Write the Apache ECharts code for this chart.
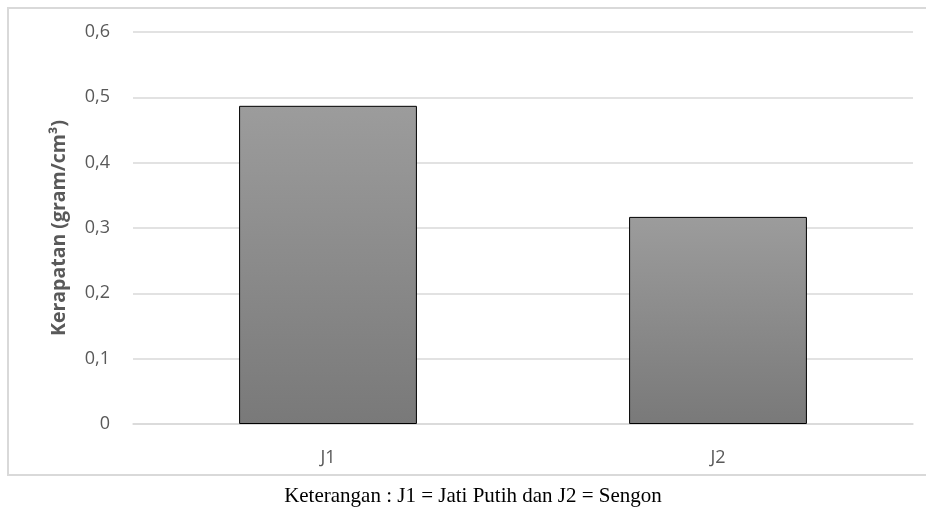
<!DOCTYPE html>
<html>
<head>
<meta charset="utf-8">
<script src="https://cdn.jsdelivr.net/npm/echarts@6/dist/echarts.min.js"></script>
<style>html,body{margin:0;padding:0;background:#fff}#c{width:926px;height:508px}</style>
</head>
<body>
<div id="c"></div>
<script>
const categories = ['J1', 'J2'];
const values = [0.487, 0.317];
const yTicks = { min: 0, max: 0.6, interval: 0.1 };
const yTitle = 'Kerapatan (gram/cm³)';
const caption = 'Keterangan : J1 = Jati Putih dan J2 = Sengon';

const chart = echarts.init(document.getElementById('c'));
chart.setOption({
  animation: false,
  backgroundColor: '#fff',
  grid: { left: 133, right: 13, top: 32, bottom: 84 },
  graphic: [
    { type: 'rect', shape: { x: 8, y: 8, width: 925, height: 467 },
      style: { fill: 'none', stroke: '#d9d9d9', lineWidth: 2 }, z: -1 },
    { type: 'text', x: 473, y: 496,
      style: { text: caption, font: '21px "Liberation Serif"', fill: '#000',
               textAlign: 'center', textVerticalAlign: 'middle' } }
  ],
  xAxis: {
    type: 'category', data: categories,
    axisLine: { show: true, lineStyle: { color: '#d9d9d9', width: 1.5 } },
    axisTick: { show: false },
    axisLabel: { color: '#595959', fontFamily: 'Open Sans', fontSize: 18, margin: 25 }
  },
  yAxis: {
    type: 'value', min: yTicks.min, max: yTicks.max, interval: yTicks.interval,
    name: yTitle, nameLocation: 'middle', nameGap: 64,
    nameTextStyle: { color: '#595959', fontFamily: 'Open Sans', fontSize: 19.5, fontWeight: 'bold' },
    axisLine: { show: false }, axisTick: { show: false },
    splitLine: { lineStyle: { color: '#d9d9d9', width: 1.5 } },
    axisLabel: { color: '#595959', fontFamily: 'Open Sans', fontSize: 18, margin: 23,
      formatter: v => (Math.round(v * 10) / 10).toString().replace('.', ',') }
  },
  series: [{
    type: 'bar', data: values, barWidth: '45.6%',
    itemStyle: {
      color: new echarts.graphic.LinearGradient(0, 0, 0, 1, [
        { offset: 0, color: '#9c9c9c' }, { offset: 1, color: '#797979' }
      ]),
      borderColor: '#000', borderWidth: 1
    }
  }]
});
</script>
</body>
</html>
